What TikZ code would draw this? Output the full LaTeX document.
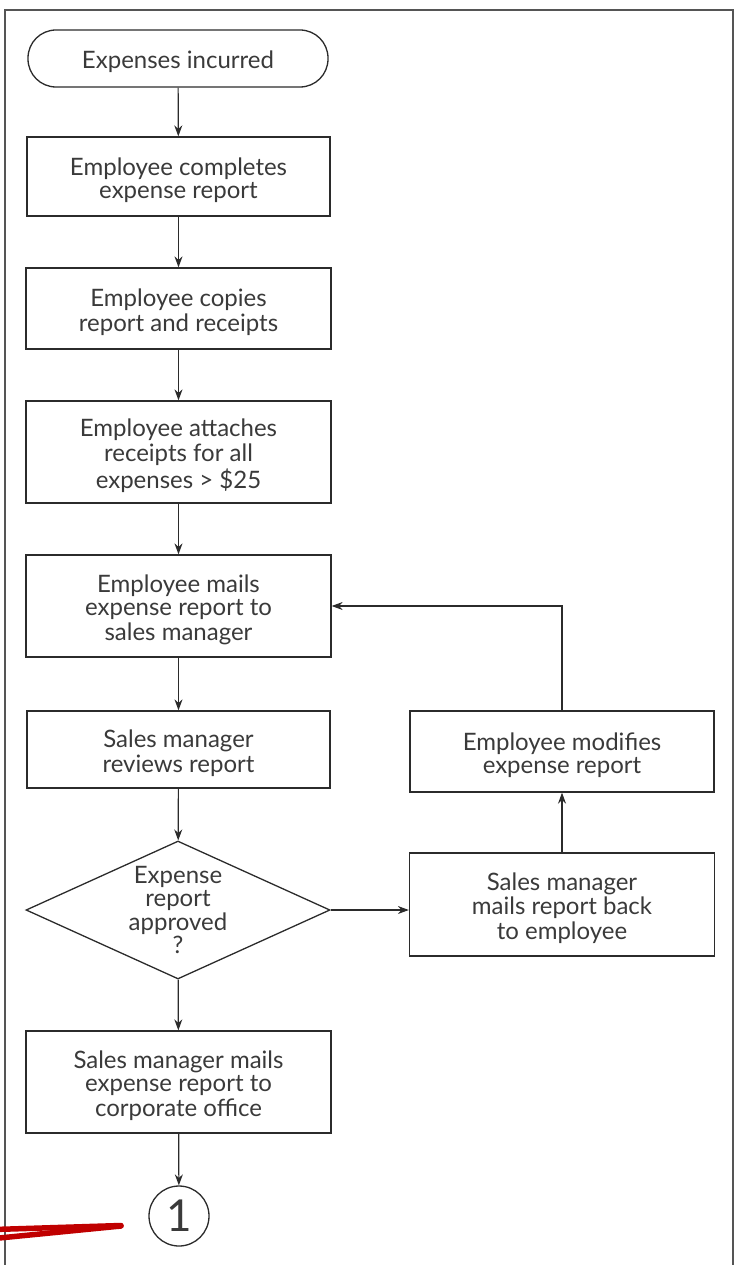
\documentclass[tikz,border=0pt]{standalone}
\usepackage{fontspec}
\setmainfont{Lato}
\usetikzlibrary{shapes.geometric,arrows.meta}
\definecolor{ink}{HTML}{2B2B2B}
\definecolor{textink}{HTML}{3A3A3A}
\definecolor{frameline}{HTML}{555555}
\definecolor{penred}{HTML}{C00000}
% centred lines, set a little below the middle of their box
\newcommand{\steptext}[1]{\raisebox{-5pt}[\height][\depth]{\begin{tabular}{@{}c@{}}#1\end{tabular}}}
\begin{document}
\begin{tikzpicture}[x=1pt,y=-1pt,
  font=\fontsize{24}{23.3}\selectfont,
  every node/.style={text=textink},
  box/.style={draw=ink,line width=1.3pt,inner sep=0pt},
  terminal/.style={box,rounded corners=28pt},
  decision/.style={draw=ink,line width=1.3pt,diamond,align=center,inner sep=0pt,shape aspect=2.2},
  connector/.style={draw=ink,line width=1.3pt,circle,inner sep=0pt},
  flow/.style={draw=ink,line width=1.2pt,-{Stealth[length=11pt,width=8pt]}}]
\useasboundingbox (0,0) rectangle (740,1265);
% page frame, open at the bottom
\draw[draw=frameline,line width=1.6pt] (5,1270) -- (5,10) -- (733,10) -- (733,1270);

% main column
\node[terminal,minimum width=300pt,minimum height=57pt] (start) at (178,58.5) {\steptext{Expenses incurred}};
\node[box,minimum width=303pt,minimum height=79pt] (complete) at (178.5,176.5) {\steptext{Employee completes\\expense report}};
\node[box,minimum width=305pt,minimum height=81pt] (copy) at (178.5,308.5) {\steptext{Employee copies\\report and receipts}};
\node[box,minimum width=305pt,minimum height=102pt] (attach) at (178.5,452) {\steptext{Employee attaches\\receipts for all\\expenses > \$25}};
\node[box,minimum width=305pt,minimum height=102pt] (mail) at (178.5,606) {\steptext{Employee mails\\expense report to\\sales manager}};
\node[box,minimum width=303pt,minimum height=77pt] (review) at (178.5,749.5) {\steptext{Sales manager\\reviews report}};
\node[decision,minimum width=304pt,minimum height=138pt] (approved) at (178,910) {Expense\\report\\approved\\?};
\node[box,minimum width=305pt,minimum height=102pt] (corporate) at (178.5,1082) {\steptext{Sales manager mails\\expense report to\\corporate office}};
\node[connector,minimum size=60pt,font=\fontsize{44}{44}\selectfont] (page) at (179,1216) {1};

% return loop
\node[box,minimum width=304pt,minimum height=81pt] (modify) at (562,751.5) {\steptext{Employee modifies\\expense report}};
\node[box,minimum width=305pt,minimum height=103pt] (back) at (562,904.5) {\steptext{Sales manager\\mails report back\\to employee}};

\draw[flow] (start) -- (complete);
\draw[flow] (complete) -- (copy);
\draw[flow] (copy) -- (attach);
\draw[flow] (attach) -- (mail);
\draw[flow] (mail) -- (review);
\draw[flow] (review) -- (approved);
\draw[flow] (approved) -- (corporate);
\draw[flow] (corporate) -- (page);
\draw[flow] (approved.east) -- (approved.east -| back.west);
\draw[flow] (back) -- (modify);
\draw[flow] (modify.north) |- (mail.east);

% red pen stroke
\draw[draw=penred,line width=5.5pt,line cap=round] (-6,1229.5) -- (121,1225.5);
\draw[draw=penred,line width=5.5pt,line cap=round] (-6,1238.5) -- (121,1226);
\end{tikzpicture}
\end{document}
